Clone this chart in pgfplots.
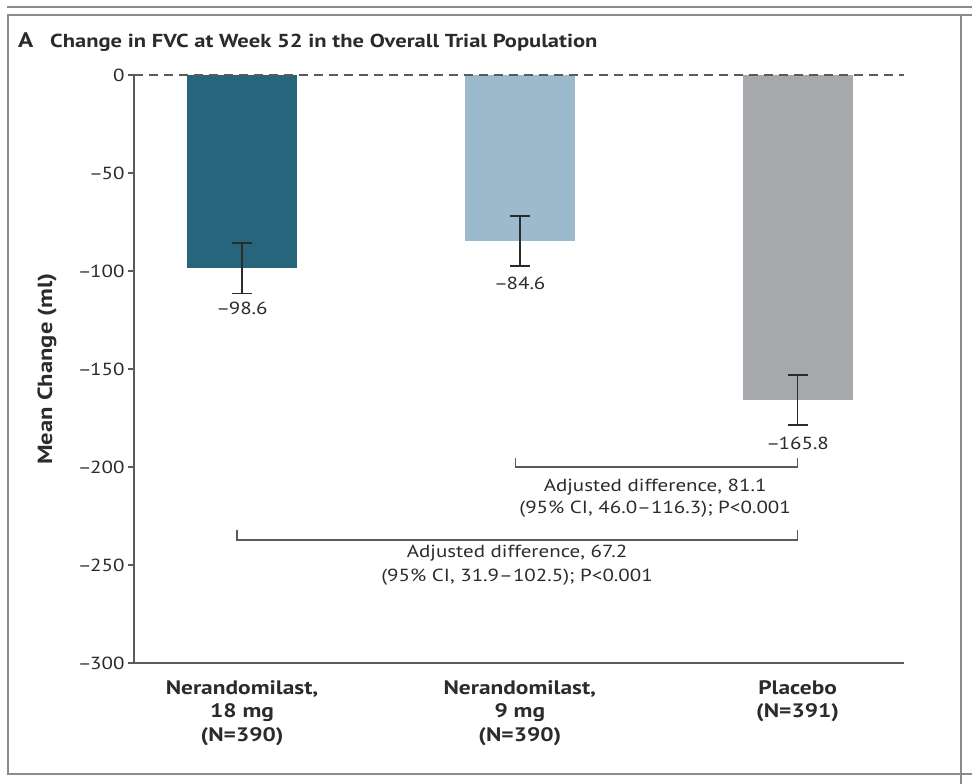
\documentclass[border=0pt]{standalone}
\usepackage{fontspec}
\setmainfont{PT Sans}[FakeStretch=1.2]
\usepackage{pgfplots}
\pgfplotsset{compat=1.18}
\definecolor{barA}{HTML}{27657C}
\definecolor{barB}{HTML}{9CBACB}
\definecolor{barC}{HTML}{A7A8AC}
\definecolor{framegray}{HTML}{8C8C8C}
\definecolor{axisgray}{HTML}{5A5A5A}
\definecolor{ink}{HTML}{2B2B2B}
\newcommand{\mn}{--\kern-1.5pt}

\begin{document}
\begin{tikzpicture}
\path[use as bounding box] (0pt,0pt) rectangle (972pt,784pt);
% panel frame
\draw[framegray, line width=2.5pt] (7pt,777pt) -- (972pt,777pt);
\draw[framegray, line width=2.5pt] (8pt,10pt) -- (8pt,769pt) -- (972pt,769pt);
\draw[framegray, line width=2.5pt] (961pt,769pt) -- (961pt,0pt);
\draw[framegray, line width=2.5pt] (7pt,10pt) -- (972pt,10pt);
\node[anchor=base west, inner sep=0, text=ink, font=\fontsize{21}{26}\selectfont\bfseries] at (18pt,736pt) {A};
\node[anchor=base west, inner sep=0, text=ink, font=\fontsize{18.8}{24}\selectfont\bfseries] at (50pt,736pt) {Change in FVC at Week 52 in the Overall Trial Population};

\begin{axis}[
  at={(134pt,121pt)}, anchor=south west,
  width=770pt, height=588pt, scale only axis,
  xmin=-0.389, xmax=2.383, ymin=-300, ymax=0,
  clip=false,
  axis x line=bottom, axis y line=left,
  axis line style={-, axisgray, line width=1.6pt},
  ytick={-300,-250,...,0},
  yticklabels={\mn300,\mn250,\mn200,\mn150,\mn100,\mn50,0},
  yticklabel style={text=ink, font=\fontsize{17.5}{20}\selectfont},
  tick align=outside, major tick length=6pt,
  y tick style={axisgray, line width=1.6pt},
  xtick={0,1,2},
  xticklabels={{Nerandomilast,\\18 mg\\(N=390)},{Nerandomilast,\\9 mg\\(N=390)},{Placebo\\(N=391)}},
  x tick style={draw=none},
  xticklabel style={align=center, text=ink, yshift=-8pt, font=\fontsize{19.5}{23.5}\selectfont\bfseries},
  ylabel={Mean Change (ml)},
  ylabel style={at={(axis description cs:-0.113,0.5)}, anchor=center, text=ink, font=\fontsize{20.5}{22}\selectfont\bfseries},
]
\addplot[ybar, bar width=0.396, bar shift=0pt, fill=barA, draw=none,
  error bars/.cd, y dir=both, y explicit,
  error bar style={ink, line width=1.6pt},
  error mark options={rotate=90, mark size=10pt, line width=1.6pt, ink}]
  coordinates {(0,-98.6) +- (0,12.8)};
\addplot[ybar, bar width=0.396, bar shift=0pt, fill=barB, draw=none,
  error bars/.cd, y dir=both, y explicit,
  error bar style={ink, line width=1.6pt},
  error mark options={rotate=90, mark size=10pt, line width=1.6pt, ink}]
  coordinates {(1,-84.6) +- (0,12.8)};
\addplot[ybar, bar width=0.396, bar shift=0pt, fill=barC, draw=none,
  error bars/.cd, y dir=both, y explicit,
  error bar style={ink, line width=1.6pt},
  error mark options={rotate=90, mark size=10pt, line width=1.6pt, ink}]
  coordinates {(2,-165.8) +- (0,12.8)};
% reference line at zero
\addplot[axisgray, line width=1.6pt, dash pattern=on 9pt off 6pt, mark=none]
  coordinates {(-0.389,0) (2.383,0)};

\node[text=ink, font=\fontsize{17.5}{20}\selectfont] at (axis cs:0,-118.9) {\mn98.6};
\node[text=ink, font=\fontsize{17.5}{20}\selectfont] at (axis cs:1,-106.1) {\mn84.6};
\node[text=ink, font=\fontsize{17.5}{20}\selectfont] at (axis cs:2,-187.8) {\mn165.8};

% comparison brackets
\draw[axisgray, line width=1.4pt] (axis cs:0.985,-195.4) |- (axis cs:2,-200) -- (axis cs:2,-195.4);
\node[text=ink, align=center, font=\fontsize{17.5}{22.5}\selectfont] at (axis cs:1.487,-215.8)
  {Adjusted difference, 81.1\\(95\% CI, 46.0--116.3); P<0.001};
\draw[axisgray, line width=1.4pt] (axis cs:-0.018,-232) |- (axis cs:2,-237.2) -- (axis cs:2,-232);
\node[text=ink, align=center, font=\fontsize{17.5}{23.5}\selectfont] at (axis cs:0.99,-250)
  {Adjusted difference, 67.2\\(95\% CI, 31.9--102.5); P<0.001};
\end{axis}
\end{tikzpicture}
\end{document}
